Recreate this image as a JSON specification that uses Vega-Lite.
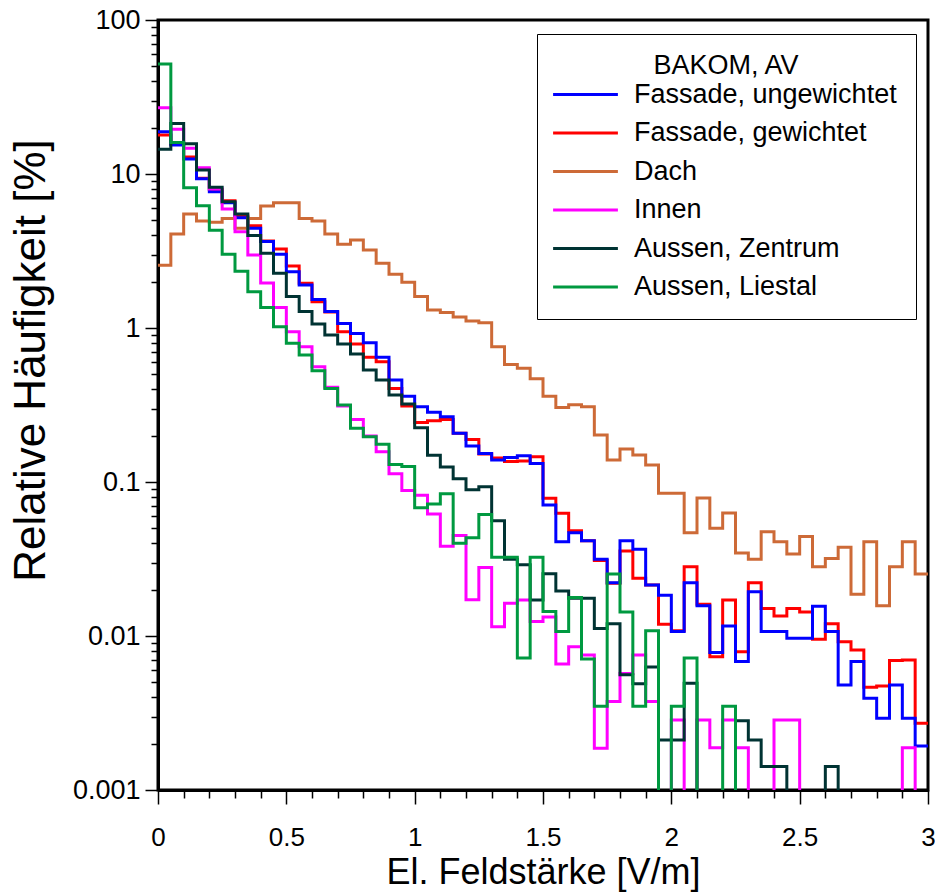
{
  "$schema": "https://vega.github.io/schema/vega-lite/v6.json",
  "width": 770,
  "height": 770,
  "autosize": {"type": "none"},
  "padding": {"left": 158, "top": 20, "right": 7, "bottom": 104},
  "background": "white",
  "config": {"view": {"stroke": "black", "strokeWidth": 3}, "font": "Liberation Sans"},
  "data": {"values": [
    {"x": 0.00, "Fassade, ungewichtet": 18.8, "Fassade, gewichtet": 17.9, "Dach": 2.56, "Innen": 26.9, "Aussen, Zentrum": 14.5, "Aussen, Liestal": 51.8},
    {"x": 0.05, "Fassade, ungewichtet": 15.4, "Fassade, gewichtet": 15.7, "Dach": 4.07, "Innen": 19.5, "Aussen, Zentrum": 21.3, "Aussen, Liestal": 16.0},
    {"x": 0.10, "Fassade, ungewichtet": 12.5, "Fassade, gewichtet": 12.9, "Dach": 5.49, "Innen": 14.7, "Aussen, Zentrum": 15.7, "Aussen, Liestal": 8.15},
    {"x": 0.15, "Fassade, ungewichtet": 9.3, "Fassade, gewichtet": 9.4, "Dach": 4.96, "Innen": 11.0, "Aussen, Zentrum": 10.6, "Aussen, Liestal": 6.22},
    {"x": 0.20, "Fassade, ungewichtet": 7.68, "Fassade, gewichtet": 7.9, "Dach": 4.86, "Innen": 8.0, "Aussen, Zentrum": 8.19, "Aussen, Liestal": 4.32},
    {"x": 0.25, "Fassade, ungewichtet": 6.5, "Fassade, gewichtet": 6.7, "Dach": 5.15, "Innen": 5.93, "Aussen, Zentrum": 6.61, "Aussen, Liestal": 3.01},
    {"x": 0.30, "Fassade, ungewichtet": 5.2, "Fassade, gewichtet": 5.33, "Dach": 4.45, "Innen": 4.22, "Aussen, Zentrum": 5.49, "Aussen, Liestal": 2.34},
    {"x": 0.35, "Fassade, ungewichtet": 4.44, "Fassade, gewichtet": 4.62, "Dach": 5.15, "Innen": 2.98, "Aussen, Zentrum": 3.98, "Aussen, Liestal": 1.72},
    {"x": 0.40, "Fassade, ungewichtet": 3.64, "Fassade, gewichtet": 3.67, "Dach": 6.2, "Innen": 1.96, "Aussen, Zentrum": 3.06, "Aussen, Liestal": 1.36},
    {"x": 0.45, "Fassade, ungewichtet": 3.01, "Fassade, gewichtet": 3.26, "Dach": 6.51, "Innen": 1.36, "Aussen, Zentrum": 2.27, "Aussen, Liestal": 1.02},
    {"x": 0.50, "Fassade, ungewichtet": 2.32, "Fassade, gewichtet": 2.53, "Dach": 6.51, "Innen": 0.946, "Aussen, Zentrum": 1.60, "Aussen, Liestal": 0.796},
    {"x": 0.55, "Fassade, ungewichtet": 1.90, "Fassade, gewichtet": 1.95, "Dach": 5.15, "Innen": 0.756, "Aussen, Zentrum": 1.28, "Aussen, Liestal": 0.668},
    {"x": 0.60, "Fassade, ungewichtet": 1.53, "Fassade, gewichtet": 1.48, "Dach": 4.96, "Innen": 0.561, "Aussen, Zentrum": 1.06, "Aussen, Liestal": 0.528},
    {"x": 0.65, "Fassade, ungewichtet": 1.28, "Fassade, gewichtet": 1.27, "Dach": 4.07, "Innen": 0.412, "Aussen, Zentrum": 0.901, "Aussen, Liestal": 0.405},
    {"x": 0.70, "Fassade, ungewichtet": 1.07, "Fassade, gewichtet": 0.946, "Dach": 3.50, "Innen": 0.312, "Aussen, Zentrum": 0.787, "Aussen, Liestal": 0.316},
    {"x": 0.75, "Fassade, ungewichtet": 0.92, "Fassade, gewichtet": 0.787, "Dach": 3.73, "Innen": 0.255, "Aussen, Zentrum": 0.678, "Aussen, Liestal": 0.223},
    {"x": 0.80, "Fassade, ungewichtet": 0.803, "Fassade, gewichtet": 0.646, "Dach": 3.21, "Innen": 0.199, "Aussen, Zentrum": 0.533, "Aussen, Liestal": 0.197},
    {"x": 0.85, "Fassade, ungewichtet": 0.646, "Fassade, gewichtet": 0.604, "Dach": 2.63, "Innen": 0.157, "Aussen, Zentrum": 0.459, "Aussen, Liestal": 0.176},
    {"x": 0.90, "Fassade, ungewichtet": 0.459, "Fassade, gewichtet": 0.405, "Dach": 2.23, "Innen": 0.113, "Aussen, Zentrum": 0.367, "Aussen, Liestal": 0.130},
    {"x": 0.95, "Fassade, ungewichtet": 0.361, "Fassade, gewichtet": 0.312, "Dach": 1.98, "Innen": 0.088, "Aussen, Zentrum": 0.321, "Aussen, Liestal": 0.126},
    {"x": 1.00, "Fassade, ungewichtet": 0.308, "Fassade, gewichtet": 0.243, "Dach": 1.60, "Innen": 0.082, "Aussen, Zentrum": 0.225, "Aussen, Liestal": 0.068},
    {"x": 1.05, "Fassade, ungewichtet": 0.284, "Fassade, gewichtet": 0.250, "Dach": 1.31, "Innen": 0.062, "Aussen, Zentrum": 0.149, "Aussen, Liestal": 0.072},
    {"x": 1.10, "Fassade, ungewichtet": 0.265, "Fassade, gewichtet": 0.255, "Dach": 1.26, "Innen": 0.0382, "Aussen, Zentrum": 0.125, "Aussen, Liestal": 0.084},
    {"x": 1.15, "Fassade, ungewichtet": 0.207, "Fassade, gewichtet": 0.207, "Dach": 1.18, "Innen": 0.0449, "Aussen, Zentrum": 0.105, "Aussen, Liestal": 0.040},
    {"x": 1.20, "Fassade, ungewichtet": 0.171, "Fassade, gewichtet": 0.189, "Dach": 1.11, "Innen": 0.0172, "Aussen, Zentrum": 0.089, "Aussen, Liestal": 0.0434},
    {"x": 1.25, "Fassade, ungewichtet": 0.153, "Fassade, gewichtet": 0.152, "Dach": 1.08, "Innen": 0.0278, "Aussen, Zentrum": 0.093, "Aussen, Liestal": 0.0616},
    {"x": 1.30, "Fassade, ungewichtet": 0.139, "Fassade, gewichtet": 0.143, "Dach": 0.756, "Innen": 0.0115, "Aussen, Zentrum": 0.056, "Aussen, Liestal": 0.0325},
    {"x": 1.35, "Fassade, ungewichtet": 0.144, "Fassade, gewichtet": 0.136, "Dach": 0.58, "Innen": 0.0163, "Aussen, Zentrum": 0.0315, "Aussen, Liestal": 0.0325},
    {"x": 1.40, "Fassade, ungewichtet": 0.148, "Fassade, gewichtet": 0.137, "Dach": 0.548, "Innen": 0.0171, "Aussen, Zentrum": 0.029, "Aussen, Liestal": 0.0072},
    {"x": 1.45, "Fassade, ungewichtet": 0.132, "Fassade, gewichtet": 0.146, "Dach": 0.468, "Innen": 0.0124, "Aussen, Zentrum": 0.0171, "Aussen, Liestal": 0.0325},
    {"x": 1.50, "Fassade, ungewichtet": 0.0709, "Fassade, gewichtet": 0.0784, "Dach": 0.361, "Innen": 0.0133, "Aussen, Zentrum": 0.0254, "Aussen, Liestal": 0.0144},
    {"x": 1.55, "Fassade, ungewichtet": 0.0410, "Fassade, gewichtet": 0.0627, "Dach": 0.305, "Innen": 0.00658, "Aussen, Zentrum": 0.0196, "Aussen, Liestal": 0.0107},
    {"x": 1.60, "Fassade, ungewichtet": 0.0469, "Fassade, gewichtet": 0.0483, "Dach": 0.318, "Innen": 0.00853, "Aussen, Zentrum": 0.0176, "Aussen, Liestal": 0.0178},
    {"x": 1.65, "Fassade, ungewichtet": 0.0416, "Fassade, gewichtet": 0.0416, "Dach": 0.308, "Innen": 0.00753, "Aussen, Zentrum": 0.0176, "Aussen, Liestal": 0.0071},
    {"x": 1.70, "Fassade, ungewichtet": 0.0315, "Fassade, gewichtet": 0.0309, "Dach": 0.202, "Innen": 0.00187, "Aussen, Zentrum": 0.0112, "Aussen, Liestal": 0.0035},
    {"x": 1.75, "Fassade, ungewichtet": 0.0222, "Fassade, gewichtet": 0.0220, "Dach": 0.139, "Innen": 0.00375, "Aussen, Zentrum": 0.0120, "Aussen, Liestal": 0.0253},
    {"x": 1.80, "Fassade, ungewichtet": 0.0416, "Fassade, gewichtet": 0.0356, "Dach": 0.164, "Innen": 0.00570, "Aussen, Zentrum": 0.0056, "Aussen, Liestal": 0.0143},
    {"x": 1.85, "Fassade, ungewichtet": 0.0366, "Fassade, gewichtet": 0.0237, "Dach": 0.150, "Innen": 0.00753, "Aussen, Zentrum": 0.0049, "Aussen, Liestal": 0.0035},
    {"x": 1.90, "Fassade, ungewichtet": 0.0214, "Fassade, gewichtet": 0.0214, "Dach": 0.129, "Innen": 0.00375, "Aussen, Zentrum": 0.0063, "Aussen, Liestal": 0.0108},
    {"x": 1.95, "Fassade, ungewichtet": 0.0184, "Fassade, gewichtet": 0.0119, "Dach": 0.0844, "Innen": 0.0001, "Aussen, Zentrum": 0.00211, "Aussen, Liestal": 0.0001},
    {"x": 2.00, "Fassade, ungewichtet": 0.0107, "Fassade, gewichtet": 0.0108, "Dach": 0.0844, "Innen": 0.00285, "Aussen, Zentrum": 0.00211, "Aussen, Liestal": 0.0035},
    {"x": 2.05, "Fassade, ungewichtet": 0.0222, "Fassade, gewichtet": 0.0282, "Dach": 0.0469, "Innen": 0.0001, "Aussen, Zentrum": 0.00493, "Aussen, Liestal": 0.0072},
    {"x": 2.10, "Fassade, ungewichtet": 0.0157, "Fassade, gewichtet": 0.0161, "Dach": 0.0787, "Innen": 0.00285, "Aussen, Zentrum": 0.0001, "Aussen, Liestal": 0.0001},
    {"x": 2.15, "Fassade, ungewichtet": 0.0078, "Fassade, gewichtet": 0.00734, "Dach": 0.050, "Innen": 0.00188, "Aussen, Zentrum": 0.0001, "Aussen, Liestal": 0.0001},
    {"x": 2.20, "Fassade, ungewichtet": 0.0116, "Fassade, gewichtet": 0.0171, "Dach": 0.063, "Innen": 0.00285, "Aussen, Zentrum": 0.0001, "Aussen, Liestal": 0.0035},
    {"x": 2.25, "Fassade, ungewichtet": 0.00682, "Fassade, gewichtet": 0.00791, "Dach": 0.0346, "Innen": 0.00188, "Aussen, Zentrum": 0.00282, "Aussen, Liestal": 0.0001},
    {"x": 2.30, "Fassade, ungewichtet": 0.0194, "Fassade, gewichtet": 0.0222, "Dach": 0.0315, "Innen": 0.0001, "Aussen, Zentrum": 0.00211, "Aussen, Liestal": 0.0001},
    {"x": 2.35, "Fassade, ungewichtet": 0.0107, "Fassade, gewichtet": 0.0151, "Dach": 0.0476, "Innen": 0.0001, "Aussen, Zentrum": 0.00142, "Aussen, Liestal": 0.0001},
    {"x": 2.40, "Fassade, ungewichtet": 0.0107, "Fassade, gewichtet": 0.0135, "Dach": 0.0410, "Innen": 0.00285, "Aussen, Zentrum": 0.00142, "Aussen, Liestal": 0.0001},
    {"x": 2.45, "Fassade, ungewichtet": 0.00966, "Fassade, gewichtet": 0.0151, "Dach": 0.0341, "Innen": 0.00285, "Aussen, Zentrum": 0.0001, "Aussen, Liestal": 0.0001},
    {"x": 2.50, "Fassade, ungewichtet": 0.00966, "Fassade, gewichtet": 0.0143, "Dach": 0.0442, "Innen": 0.0001, "Aussen, Zentrum": 0.0001, "Aussen, Liestal": 0.0001},
    {"x": 2.55, "Fassade, ungewichtet": 0.0156, "Fassade, gewichtet": 0.00951, "Dach": 0.0282, "Innen": 0.0001, "Aussen, Zentrum": 0.0001, "Aussen, Liestal": 0.0001},
    {"x": 2.60, "Fassade, ungewichtet": 0.0107, "Fassade, gewichtet": 0.0120, "Dach": 0.0319, "Innen": 0.0001, "Aussen, Zentrum": 0.00142, "Aussen, Liestal": 0.0001},
    {"x": 2.65, "Fassade, ungewichtet": 0.00481, "Fassade, gewichtet": 0.00918, "Dach": 0.0377, "Innen": 0.0001, "Aussen, Zentrum": 0.0001, "Aussen, Liestal": 0.0001},
    {"x": 2.70, "Fassade, ungewichtet": 0.00682, "Fassade, gewichtet": 0.00811, "Dach": 0.0187, "Innen": 0.0001, "Aussen, Zentrum": 0.0001, "Aussen, Liestal": 0.0001},
    {"x": 2.75, "Fassade, ungewichtet": 0.00394, "Fassade, gewichtet": 0.00465, "Dach": 0.0410, "Innen": 0.0001, "Aussen, Zentrum": 0.0001, "Aussen, Liestal": 0.0001},
    {"x": 2.80, "Fassade, ungewichtet": 0.00292, "Fassade, gewichtet": 0.00473, "Dach": 0.0157, "Innen": 0.0001, "Aussen, Zentrum": 0.0001, "Aussen, Liestal": 0.0001},
    {"x": 2.85, "Fassade, ungewichtet": 0.00481, "Fassade, gewichtet": 0.00692, "Dach": 0.0282, "Innen": 0.0001, "Aussen, Zentrum": 0.0001, "Aussen, Liestal": 0.0001},
    {"x": 2.90, "Fassade, ungewichtet": 0.00292, "Fassade, gewichtet": 0.00698, "Dach": 0.0410, "Innen": 0.00188, "Aussen, Zentrum": 0.0001, "Aussen, Liestal": 0.0001},
    {"x": 2.95, "Fassade, ungewichtet": 0.00193, "Fassade, gewichtet": 0.00271, "Dach": 0.0253, "Innen": 0.0001, "Aussen, Zentrum": 0.0001, "Aussen, Liestal": 0.0001},
    {"x": 3.00, "Fassade, ungewichtet": 0.00193, "Fassade, gewichtet": 0.00271, "Dach": 0.0253, "Innen": 0.0001, "Aussen, Zentrum": 0.0001, "Aussen, Liestal": 0.0001}
  ]},
  "transform": [
    {"fold": ["Fassade, gewichtet", "Fassade, ungewichtet", "Dach", "Innen", "Aussen, Zentrum", "Aussen, Liestal"], "as": ["series", "v"]}
  ],
  "mark": {"type": "line", "interpolate": "step-after", "strokeWidth": 3, "clip": true},
  "encoding": {
    "x": {
      "field": "x", "type": "quantitative",
      "scale": {"domain": [0, 3], "nice": false, "zero": false},
      "axis": {
        "values": [0, 0.1, 0.2, 0.3, 0.4, 0.5, 0.6, 0.7, 0.8, 0.9, 1, 1.1, 1.2, 1.3, 1.4, 1.5, 1.6, 1.7, 1.8, 1.9, 2, 2.1, 2.2, 2.3, 2.4, 2.5, 2.6, 2.7, 2.8, 2.9, 3],
        "labelExpr": "abs(datum.value*2 - round(datum.value*2)) < 0.001 ? format(datum.value, '~g') : ''",
        "tickSize": {"condition": {"test": "abs(datum.value*2 - round(datum.value*2)) < 0.001", "value": 14}, "value": 8},
        "labelPadding": 20, "labelFontSize": 26, "labelColor": "black", "labelFlush": false, "labelOverlap": false,
        "tickColor": "black", "tickWidth": 1.5, "domainColor": "black", "domainWidth": 3, "grid": false,
        "title": "El. Feldstärke [V/m]", "titleFontSize": 36, "titleFontWeight": "normal", "titleColor": "black", "titlePadding": 5
      }
    },
    "y": {
      "field": "v", "type": "quantitative",
      "scale": {"type": "log", "domain": [0.001, 100], "nice": false},
      "axis": {
        "values": [0.001, 0.002, 0.003, 0.004, 0.005, 0.006, 0.007, 0.008, 0.009, 0.01, 0.02, 0.03, 0.04, 0.05, 0.06, 0.07, 0.08, 0.09, 0.1, 0.2, 0.3, 0.4, 0.5, 0.6, 0.7, 0.8, 0.9, 1, 2, 3, 4, 5, 6, 7, 8, 9, 10, 20, 30, 40, 50, 60, 70, 80, 90, 100],
        "labelExpr": "abs(log(datum.value)/LN10 - round(log(datum.value)/LN10)) < 0.001 ? format(datum.value, '~g') : ''",
        "tickSize": {"condition": {"test": "abs(log(datum.value)/LN10 - round(log(datum.value)/LN10)) < 0.001", "value": 13}, "value": 7},
        "labelPadding": 5, "labelFontSize": 27, "labelColor": "black", "labelFlush": false, "labelOverlap": false,
        "tickColor": "black", "tickWidth": 1.5, "domainColor": "black", "domainWidth": 3, "grid": false,
        "title": "Relative Häufigkeit [%]", "titleFontSize": 44, "titleFontWeight": "normal", "titleColor": "black",
        "titleX": -114, "titleY": 340, "titleBaseline": "alphabetic", "titleAlign": "center", "titleAngle": 270
      }
    },
    "color": {
      "field": "series", "type": "nominal",
      "scale": {
        "domain": ["Fassade, ungewichtet", "Fassade, gewichtet", "Dach", "Innen", "Aussen, Zentrum", "Aussen, Liestal"],
        "range": ["#0000FF", "#FF0000", "#CD6A37", "#FF00FF", "#003333", "#009940"]
      },
      "legend": {
        "orient": "none", "legendX": 379, "legendY": 14,
        "title": "BAKOM, AV", "titleFontSize": 27, "titleFontWeight": "normal", "titleColor": "black", "titleAnchor": "middle", "titlePadding": -5,
        "labelFontSize": 27, "labelColor": "black", "labelLimit": 400, "labelOffset": 29,
        "symbolType": "M-1.8,0H1.8", "symbolSize": 1296, "symbolStrokeWidth": 3, "symbolOffset": 10,
        "padding": 19, "rowPadding": 5.5, "strokeColor": "black", "fillColor": "white"
      }
    }
  }
}
